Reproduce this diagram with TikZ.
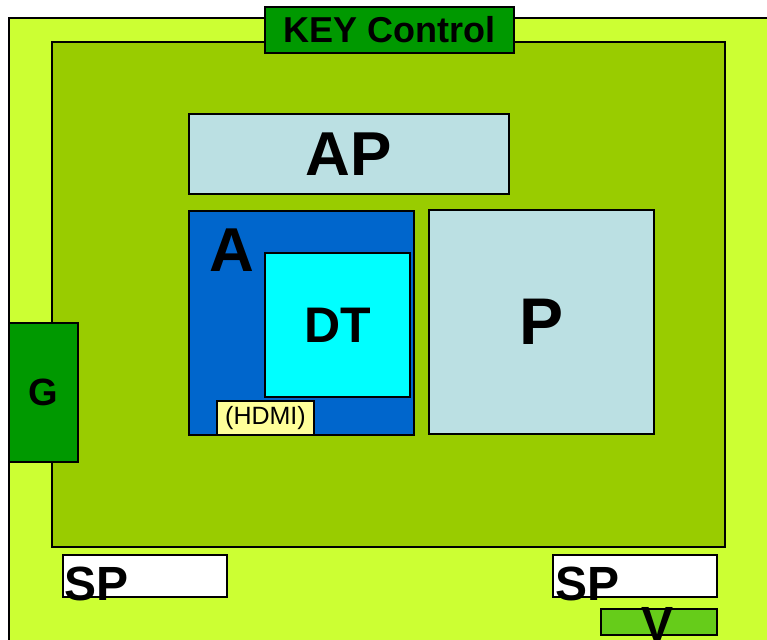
\documentclass[tikz,border=0pt]{standalone}
\usepackage{fontspec}
\setmainfont{Liberation Sans}
\definecolor{outerg}{HTML}{CCFF33}
\definecolor{innerg}{HTML}{99CC00}
\definecolor{darkg}{HTML}{009900}
\definecolor{paleb}{HTML}{BBE0E3}
\definecolor{blueA}{HTML}{0066CC}
\definecolor{cyanD}{HTML}{00FFFF}
\definecolor{yellH}{HTML}{FFFF99}
\definecolor{vgreen}{HTML}{66CC1A}
\newcommand{\fs}[1]{\fontsize{#1}{#1}\selectfont\bfseries}
\begin{document}
\begin{tikzpicture}[x=1pt,y=-1pt,
  box/.style={draw=black, line width=2pt, inner sep=0pt, rectangle},
  lbl/.style={inner sep=0pt, text=black}]
\useasboundingbox (0,0) rectangle (767,639);
\path[fill=white] (0,0) rectangle (767,639);
% outer
\node[box, fill=outerg, minimum width=790, minimum height=650, anchor=north west] (outer) at (8,17) {};
% inner
\node[box, fill=innerg, minimum width=673, minimum height=505, anchor=north west] (inner) at (51,41) {};
% key control
\node[box, fill=darkg, minimum width=249, minimum height=46, anchor=north west, font=\fs{36}] (key) at (264,6) {KEY Control};
% AP
\node[box, fill=paleb, minimum width=320, minimum height=80, anchor=north west, font=\fs{62}] (ap) at (188,113) {AP};
% A
\node[box, fill=blueA, minimum width=225, minimum height=224, anchor=north west] (a) at (188,210) {};
\node[lbl, font=\fs{62}] (alabel) at (232,250) {A};
% DT
\node[box, fill=cyanD, minimum width=145, minimum height=144, anchor=north west, font=\fs{50}] (dt) at (264,252) {DT};
% HDMI
\node[box, fill=yellH, minimum width=97, minimum height=34, anchor=north west, font=\fontsize{25}{25}\selectfont] (hdmi) at (216,400) {(HDMI)};
% P
\node[box, fill=paleb, minimum width=225, minimum height=224, anchor=north west, font=\fs{66}] (p) at (428,209) {P};
% G
\node[box, fill=darkg, minimum width=69, minimum height=139, anchor=north west, font=\fs{38}] (g) at (8,322) {G};
% SP boxes
\node[box, fill=white, minimum width=164, minimum height=42, anchor=north west] (sp1) at (62,554) {};
\node[lbl, font=\fs{48}, anchor=base west] (sp1l) at (64,600) {SP};
\node[box, fill=white, minimum width=164, minimum height=42, anchor=north west] (sp2) at (552,554) {};
\node[lbl, font=\fs{48}, anchor=base west] (sp2l) at (555,600) {SP};
% V
\node[box, fill=vgreen, minimum width=116, minimum height=26, anchor=north west] (v) at (600,608) {};
\node[lbl, font=\fs{48}, anchor=base] (vl) at (657,640) {V};
\end{tikzpicture}
\end{document}
